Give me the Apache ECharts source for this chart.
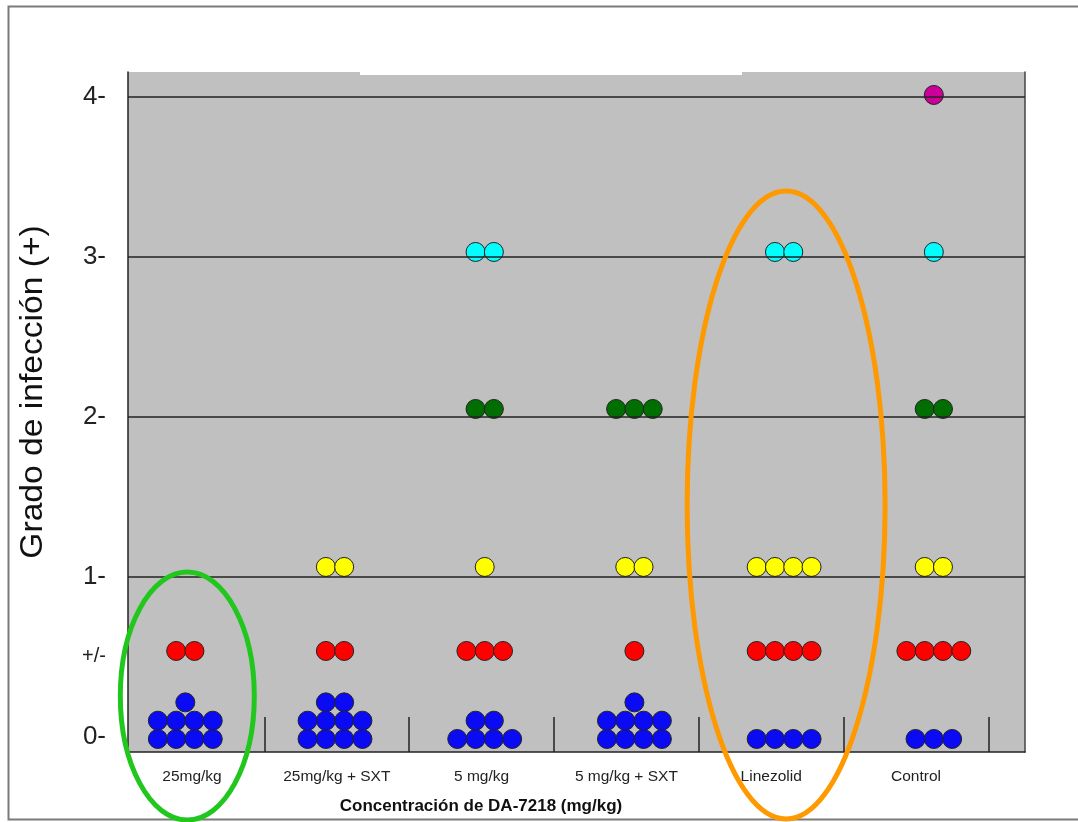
<!DOCTYPE html>
<html>
<head>
<meta charset="utf-8">
<script src="https://cdn.jsdelivr.net/npm/echarts@6/dist/echarts.min.js"></script>
<style>
html,body{margin:0;padding:0;background:#fff;}
#c{width:1078px;height:822px;}
</style>
</head>
<body>
<div id="c"></div>
<script>
// ---- data ----
const groups = ['25mg/kg', '25mg/kg + SXT', '5 mg/kg', '5 mg/kg + SXT', 'Linezolid', 'Control'];
const gradeValues = [0, 0.5, 1, 2, 3, 4];
const gradeLabels = ['0-', '+/-', '1-', '2-', '3-', '4-'];
const lineGrades = [1, 2, 3, 4];
// number of animals per group at each grade
const countGrade0 = [9, 10, 6, 9, 4, 3];
const countGradePM = [2, 2, 3, 1, 4, 4];
const countGrade1 = [0, 2, 1, 2, 4, 2];
const countGrade2 = [0, 0, 2, 3, 0, 2];
const countGrade3 = [0, 0, 2, 0, 2, 1];
const countGrade4 = [0, 0, 0, 0, 0, 1];
const xTitle = 'Concentración de DA-7218 (mg/kg)';
const yTitle = 'Grado de infección (+)';

// ---- styling / layout ----
const SP = 18.3;        // dot spacing in px
const PER_ROW = 4;
const FONT = 'Arial, "Liberation Sans", sans-serif';

function dots(counts, grade, dyBase) {
  const out = [];
  counts.forEach((n, g) => {
    for (let k = 0; k < n; k++) {
      const row = Math.floor(k / PER_ROW);
      const inRow = Math.min(PER_ROW, n - row * PER_ROW);
      const col = k - row * PER_ROW;
      out.push({
        value: [g, grade],
        symbolOffset: [(col - (inRow - 1) / 2) * SP, dyBase - row * SP]
      });
    }
  });
  return out;
}

function dotSeries(name, counts, grade, color, dyBase, z) {
  return {
    name: name, type: 'scatter', xAxisIndex: 1, yAxisIndex: 0,
    symbol: 'circle', symbolSize: 19, z: z || 4,
    itemStyle: { color: color, borderColor: '#222', borderWidth: 1, opacity: 1 },
    emphasis: { disabled: true },
    data: dots(counts, grade, dyBase)
  };
}

const chart = echarts.init(document.getElementById('c'), null, { renderer: 'canvas' });

const option = {
  animation: false,
  backgroundColor: '#ffffff',
  grid: {
    left: 128, right: 53, top: 72, bottom: 70,
    show: true, backgroundColor: '#c0c0c0', borderWidth: 0
  },
  xAxis: [
    {
      type: 'value', min: 0.058, max: 6.253, position: 'bottom',
      axisLine: { show: true, onZero: false, lineStyle: { color: '#222', width: 1.5 } },
      axisTick: { show: true, inside: true, length: 35, customValues: [1, 2, 3, 4, 5, 6],
                  lineStyle: { color: '#222', width: 1.5 } },
      axisLabel: {
        show: true, customValues: [0.5, 1.5, 2.5, 3.5, 4.5, 5.5],
        formatter: function (v) { return groups[Math.round(v - 0.5)]; },
        color: '#222', fontSize: 15.5, fontFamily: FONT, margin: 17
      },
      splitLine: { show: false }
    },
    {
      type: 'value', min: -0.3828, max: 5.609, show: false
    }
  ],
  yAxis: [
    {
      type: 'value', min: -0.094, max: 4.156, position: 'left',
      axisLine: { show: true, onZero: false, lineStyle: { color: '#222', width: 1.5 } },
      axisTick: { show: false },
      splitLine: { show: false },
      axisLabel: {
        show: true, customValues: gradeValues, margin: 22,
        formatter: function (v) {
          const i = gradeValues.indexOf(v);
          const t = gradeLabels[i];
          return v === 0.5 ? '{s|' + t + '}' : '{b|' + t + '}';
        },
        rich: {
          b: { fontSize: 26, color: '#222', fontFamily: FONT },
          s: { fontSize: 20, color: '#222', fontFamily: FONT }
        }
      }
    },
    {
      type: 'value', min: -0.094, max: 4.156, position: 'right',
      axisLine: { show: true, onZero: false, lineStyle: { color: '#444', width: 1.5 } },
      axisTick: { show: false }, axisLabel: { show: false }, splitLine: { show: false }
    }
  ],
  series: [
    {
      name: 'lines', type: 'scatter', xAxisIndex: 1, yAxisIndex: 0, data: [], z: 3,
      markLine: {
        silent: true, symbol: ['none', 'none'], animation: false,
        label: { show: false },
        lineStyle: { color: '#222', width: 1.5, type: 'solid' },
        data: lineGrades.map(function (g) { return { yAxis: g }; })
      }
    },
    dotSeries('0', countGrade0, 0, '#0a0af5', 2),
    dotSeries('+/-', countGradePM, 0.5, '#ff0000', -6),
    dotSeries('1', countGrade1, 1, '#ffff00', -10),
    dotSeries('2', countGrade2, 2, '#006e00', -8),
    dotSeries('3', countGrade3, 3, '#00ffff', -5),
    dotSeries('4', countGrade4, 4, '#cc0099', -2, 2)
  ]
};
chart.setOption(option);

// annotation graphics; ellipses centred on their group columns
const gx0 = chart.convertToPixel({ xAxisIndex: 1 }, 0);
const gx4 = chart.convertToPixel({ xAxisIndex: 1 }, 4);
chart.setOption({
  graphic: [
    { id: 'notch', type: 'rect', z: 1, silent: true,
      shape: { x: 360, y: 70.5, width: 382, height: 4.5 }, style: { fill: '#ffffff' } },
    { id: 'frame', type: 'rect', z: 0, silent: true,
      shape: { x: 8.5, y: 6.5, width: 1100, height: 813 },
      style: { fill: null, stroke: '#7a7a7a', lineWidth: 2 } },
    { id: 'ytitle', type: 'text', silent: true, x: 33, y: 392, rotation: Math.PI / 2,
      scaleX: 1.05, scaleY: 1,
      style: { text: yTitle, fontSize: 32, fontFamily: FONT, fill: '#111',
               align: 'center', verticalAlign: 'middle' } },
    { id: 'xtitle', type: 'text', silent: true, x: 481, y: 806,
      style: { text: xTitle, fontSize: 17, fontWeight: 'bold', fontFamily: FONT, fill: '#111',
               align: 'center', verticalAlign: 'middle' } },
    { id: 'greenEllipse', type: 'ellipse', z: 100, silent: true,
      shape: { cx: gx0 + 2, cy: 696, rx: 67, ry: 124 },
      style: { fill: null, stroke: '#22c71e', lineWidth: 5 } },
    { id: 'orangeEllipse', type: 'ellipse', z: 100, silent: true,
      shape: { cx: gx4 + 2, cy: 505, rx: 99, ry: 314 },
      style: { fill: null, stroke: '#ff9900', lineWidth: 5 } }
  ]
});
</script>
</body>
</html>
